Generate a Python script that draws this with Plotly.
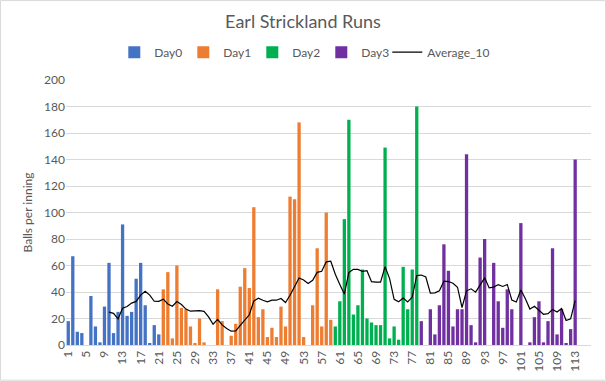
import plotly.graph_objects as go
import pandas as pd

# Balls per inning, innings numbered consecutively across the four days
day0 = [18, 67, 10, 9, 0, 37, 14, 2, 29, 62, 9, 25, 91, 22, 25, 50, 62, 30, 1, 15, 8]
day1 = [42, 55, 5, 60, 28, 27, 14, 1, 20, 2, 0, 0, 42, 18, 0, 7, 16, 44, 58, 43,
        104, 21, 27, 6, 13, 6, 29, 14, 112, 110, 168, 6, 0, 30, 73, 14, 100, 19]
day2 = [14, 33, 95, 170, 23, 30, 57, 20, 17, 15, 15, 149, 5, 14, 4, 59, 27, 57, 180]
day3 = [18, 0, 27, 8, 30, 76, 56, 14, 27, 27, 144, 15, 2, 66, 80, 0, 62, 33, 13, 42,
        27, 0, 92, 0, 2, 21, 33, 2, 18, 73, 8, 27, 1, 12, 140]

series_names = ["Day0", "Day1", "Day2", "Day3"]
series_colors = ["#4472C4", "#ED7D31", "#00B050", "#7030A0"]
n_categories = 116
tick_values = list(range(1, 114, 4))
y_ticks = list(range(0, 201, 20))

fig = go.Figure()
start = 1
all_vals = []
for name, vals, col in zip(series_names, [day0, day1, day2, day3], series_colors):
    xs = list(range(start, start + len(vals)))
    fig.add_trace(go.Bar(x=xs, y=vals, name=name, marker_color=col,
                         marker_line_width=0, width=0.73))
    all_vals += vals
    start += len(vals)

innings = list(range(1, len(all_vals) + 1))
avg10 = pd.Series(all_vals).rolling(10).mean()
fig.add_trace(go.Scatter(x=innings, y=avg10, name="Average_10", mode="lines",
                         line=dict(color="black", width=1.2), legend="legend2"))

grey = "#595959"
fig.update_layout(
    width=606, height=381,
    margin=dict(l=66, r=15, t=80, b=36, autoexpand=False),
    paper_bgcolor="white", plot_bgcolor="white",
    barmode="overlay",
    font=dict(family="Lato, Calibri, sans-serif", color=grey, size=12),
    title=dict(text="Earl Strickland Runs", x=0.5, xanchor="center",
               y=1 - 22 / 381, yanchor="middle",
               font=dict(size=18, color=grey)),
    legend=dict(orientation="h", x=0.092, xanchor="left", y=1.105, yanchor="middle",
                font=dict(size=12, color=grey), entrywidth=24, entrywidthmode="pixels",
                traceorder="normal", itemwidth=30, bgcolor="rgba(0,0,0,0)"),
    legend2=dict(orientation="h", x=0.612, xanchor="left", y=1.105, yanchor="middle",
                 font=dict(size=12, color=grey), itemwidth=30, bgcolor="rgba(0,0,0,0)"),
    showlegend=True,
    xaxis=dict(range=[0.5, n_categories + 0.5], tickmode="array", tickvals=tick_values,
               ticktext=[str(v) for v in tick_values], tickangle=-90,
               showgrid=False, showline=True, linecolor="#d9d9d9", linewidth=1,
               ticks="", zeroline=False, tickfont=dict(size=12, color=grey)),
    yaxis=dict(range=[0, 200], tickvals=y_ticks, showgrid=True, gridcolor="#d9d9d9",
               gridwidth=1, zeroline=False, showline=False, ticks="",
               tickfont=dict(size=12, color=grey),
               title=dict(text="Balls per inning", font=dict(size=12, color=grey), standoff=8)),
    shapes=[dict(type="rect", xref="paper", yref="paper",
                 x0=(0.5 - 66) / 525, x1=(605.5 - 66) / 525,
                 y0=(345.3 - 380.5) / 265.3, y1=(345.3 - 0.5) / 265.3,
                 line=dict(color="#d9d9d9", width=1), layer="below")],
)

fig.write_html("out.html", config={"displayModeBar": False},
               post_script="document.body.style.margin='0';")
